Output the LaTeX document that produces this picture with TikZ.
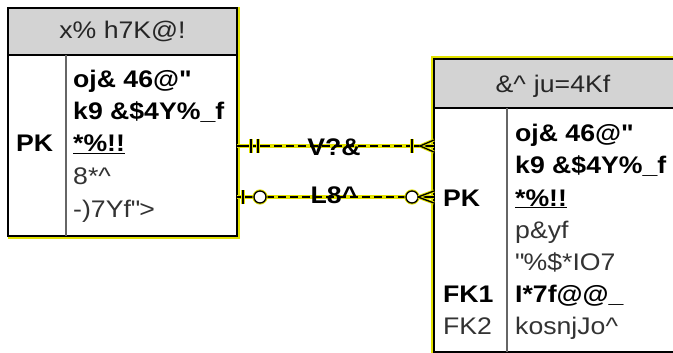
\documentclass[tikz,border=0pt]{standalone}
\usepackage{fontspec}
\setmainfont{Liberation Sans}[FakeStretch=1.11]
\usetikzlibrary{positioning}
\definecolor{hilite}{RGB}{226,226,0}
\definecolor{hdrgray}{RGB}{211,211,211}
\newcommand\erfont{\fontsize{24}{28}\selectfont}

\begin{document}
\begin{tikzpicture}[x=1pt,y=-1pt,font=\erfont,
  table/.style={draw,line width=1.3pt,fill=white,inner sep=0pt,outer sep=0pt,anchor=north west},
  head/.style={table,fill=hdrgray,text=black!85},
  col/.style={draw=black!60,line width=1.4pt},
  glow/.style={draw=hilite,line width=1.8pt},
  key/.style={anchor=base west,inner sep=0pt,font=\erfont\bfseries},
  attr/.style={anchor=base west,inner sep=0pt,font=\erfont\bfseries},
  plain/.style={anchor=base west,inner sep=0pt,text=black!80},
  lbl/.style={anchor=base,inner sep=0pt,font=\erfont\bfseries},
  rel/.style={line width=1.5pt,dash pattern=on 8pt off 4pt,
    preaction={draw=hilite,line width=3.4pt}},
  endmk/.style={line width=1.3pt,preaction={draw=hilite,line width=3.2pt}}]
  \useasboundingbox (0,0) rectangle (673,353);

  % left table
  \node[table,minimum width=229pt,minimum height=228pt] (ltab) at (8,8) {};
  \draw[glow] ([xshift=1.8pt,yshift=1pt]ltab.north east) -- ([xshift=1.8pt,yshift=-1.8pt]ltab.south east)
    -- ([yshift=-1.8pt]ltab.south west);
  \node[head,minimum width=229pt,minimum height=47pt] (lhead) at (ltab.north west) {x\% h7K@!};
  \draw[col] (lhead.south -| 66,0) -- (ltab.south -| 66,0);
  \node[key] (lpk) at (16,152) {PK};
  \node[attr] (la1) at (73,88) {oj\& 46@\textquotedbl};
  \node[attr] (la2) at (73,120) {k9 \&\$4Y\%\_f};
  \node[attr] (la3) at (73,152) {\underline{*\%!!}};
  \node[plain] (la4) at (73,185) {8*\textasciicircum};
  \node[plain] (la5) at (73,217) {-)7Yf\textquotedbl>};

  % right table
  \node[table,minimum width=242pt,minimum height=293pt] (rtab) at (434,59) {};
  \draw[glow] ([xshift=-1.8pt,yshift=-1pt]rtab.south west) -- ([xshift=-1.8pt,yshift=1.8pt]rtab.north west)
    -- ([yshift=1.8pt]rtab.north east);
  \node[head,minimum width=242pt,minimum height=49pt,text width=238pt,align=center,
    text depth=0pt] (rhead) at (rtab.north west) {\hspace*{-4pt}\&\textasciicircum{} ju=4Kf};
  \draw[col] (rhead.south -| 507,0) -- (rtab.south -| 507,0);
  \node[key] (rpk) at (443,206) {PK};
  \node[key] (rfk1) at (443,302) {FK1};
  \node[plain] (rfk2) at (443,334) {FK2};
  \node[attr] (ra1) at (515,142) {oj\& 46@\textquotedbl};
  \node[attr] (ra2) at (515,174) {k9 \&\$4Y\%\_f};
  \node[attr] (ra3) at (515,206) {\underline{*\%!!}};
  \node[plain] (ra4) at (515,238) {p\&yf};
  \node[plain] (ra5) at (515,270) {\textquotedbl\%\$*IO7};
  \node[attr] (ra6) at (515,302) {I*7f@@\_};
  \node[plain] (ra7) at (515,334) {kosnjJo\textasciicircum};

  % relationships
  \coordinate (a1) at (ltab.east |- 0,146);
  \coordinate (b1) at (rtab.west |- 0,146);
  \coordinate (a2) at (ltab.east |- 0,197);
  \coordinate (b2) at (rtab.west |- 0,197);
  \draw[rel] ([xshift=25pt]a1) -- ([xshift=-28pt]b1);
  \draw[endmk] (a1) -- ([xshift=25pt]a1);
  \draw[endmk] ([xshift=14pt,yshift=7pt]a1) -- ([xshift=14pt,yshift=-7pt]a1);
  \draw[endmk] ([xshift=21pt,yshift=7pt]a1) -- ([xshift=21pt,yshift=-7pt]a1);
  \draw[endmk] ([xshift=-28pt]b1) -- (b1);
  \draw[endmk] ([xshift=-22pt,yshift=7pt]b1) -- ([xshift=-22pt,yshift=-7pt]b1);
  \draw[endmk] ([xshift=-14pt]b1) -- ([yshift=6pt]b1) ([xshift=-14pt]b1) -- ([yshift=-6pt]b1);
  \node[lbl] (rel1) at (334,155) {V?\&};

  \draw[rel] ([xshift=29pt]a2) -- ([xshift=-28pt]b2);
  \draw[endmk] (a2) -- ([xshift=17pt]a2);
  \draw[endmk] ([xshift=6pt,yshift=7pt]a2) -- ([xshift=6pt,yshift=-7pt]a2);
  \draw[endmk,fill=white] ([xshift=23pt]a2) circle[radius=6pt];
  \draw[endmk] ([xshift=-16pt]b2) -- (b2);
  \draw[endmk,fill=white] ([xshift=-22pt]b2) circle[radius=6pt];
  \draw[endmk] ([xshift=-16pt]b2) -- ([yshift=6pt]b2) ([xshift=-16pt]b2) -- ([yshift=-6pt]b2);
  \node[lbl] (rel2) at (334,203) {L8\textasciicircum};
\end{tikzpicture}
\end{document}
